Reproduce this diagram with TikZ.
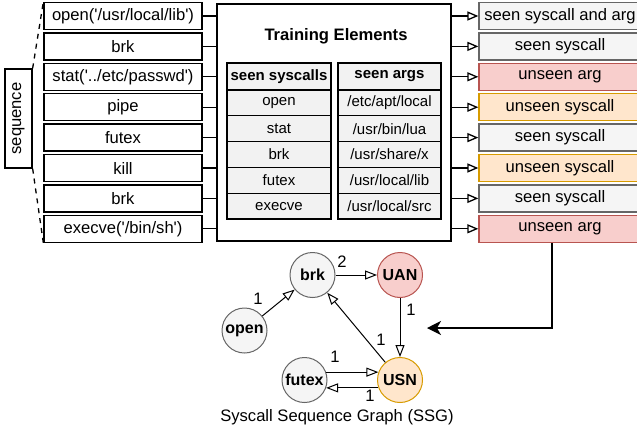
\documentclass[tikz,border=0pt]{standalone}
\usepackage{fontspec}
\setmainfont{Liberation Sans}[Ligatures=TeXOff]
\usetikzlibrary{arrows.meta,calc}

\definecolor{grayfill}{HTML}{F5F5F5}
\definecolor{graystroke}{HTML}{666666}
\definecolor{redfill}{HTML}{F8CECC}
\definecolor{redstroke}{HTML}{B85450}
\definecolor{orangefill}{HTML}{FFE6CC}
\definecolor{orangestroke}{HTML}{D79B00}
\definecolor{cellfill}{HTML}{F2F2F2}

\tikzset{
  txt/.style={font=\fontsize{16.6}{19}\selectfont},
  seqbox/.style={txt, draw, line width=1.3pt, minimum width=158pt, minimum height=27pt, inner sep=0pt},
  outbox/.style={txt, draw, line width=1.3pt, minimum width=162pt, minimum height=27pt, inner sep=0pt},
  seenbox/.style={outbox, fill=grayfill, draw=graystroke},
  argbox/.style={outbox, fill=redfill, draw=redstroke},
  callbox/.style={outbox, fill=orangefill, draw=orangestroke},
  cell/.style={font=\fontsize{15}{17}\selectfont, draw, fill=cellfill, line width=1.3pt, minimum height=25.8pt, inner sep=0pt},
  callcell/.style={cell, minimum width=104pt},
  argcell/.style={cell, minimum width=103pt},
  gnode/.style={circle, minimum size=45pt, inner sep=0pt, line width=1pt, font=\bfseries\fontsize{16}{18}\selectfont},
  gseen/.style={gnode, draw=graystroke, fill=grayfill},
  elabel/.style={txt, inner sep=0pt},
  link/.style={line width=1.3pt},
  zoomline/.style={line width=1.3pt, dash pattern=on 5pt off 5pt},
  outarrow/.style={line width=1.3pt, -{Triangle[open, length=11pt, width=9pt]}},
  garrow/.style={line width=1pt, -{Triangle[open, length=12pt, width=9pt]}},
  bigarrow/.style={line width=1.3pt, -{Stealth[length=14pt, width=14pt, inset=4pt]}},
}

\begin{document}
\begin{tikzpicture}[x=1pt, y=-1pt]
  \useasboundingbox (0,0) rectangle (637,434);

  % input syscall sequence
  \foreach \i/\t in {1/{open('/usr/local/lib')}, 2/{brk}, 3/{stat('../etc/passwd')}, 4/{pipe},
                     5/{futex}, 6/{kill}, 7/{brk}, 8/{execve('/bin/sh')}}
    \node[seqbox] (seq\i) at (123, {16+30.4*(\i-1)}) {\t};

  % rotated label: its south east corner is the upper right one on the page
  \node[txt, draw, line width=1.3pt, rotate=90, minimum width=99pt, minimum height=27pt, inner sep=0pt]
    (seqlabel) at (18.5,118.5) {sequence};
  \draw[zoomline] (seqlabel.south east) -- (seq1.north west);
  \draw[zoomline] (seqlabel.south west) -- (seq8.south west);

  % training elements
  \node[draw, line width=1.3pt, minimum width=234pt, minimum height=237pt] (train) at (334,122.5) {};
  \node[txt, font=\bfseries\fontsize{16.6}{19}\selectfont] (title) at (336,36) {Training Elements};

  \node[callcell, font=\bfseries\fontsize{15}{17}\selectfont, minimum height=27pt] (c0) at (279,76.5) {seen syscalls};
  \node[argcell, font=\bfseries\fontsize{15}{17}\selectfont, minimum height=27pt] (a0) at (389.5,76.5) {seen args};
  \foreach \i/\c/\a in {1/open/{/etc/apt/local}, 2/stat/{/usr/bin/lua}, 3/brk/{/usr/share/x},
                        4/futex/{/usr/local/lib}, 5/execve/{/usr/local/src}} {
    \node[callcell] (c\i) at (279, {90+25.8*(\i-0.5)}) {\c};
    \node[argcell] (a\i) at (389.5, {90+25.8*(\i-0.5)}) {\a};
  }

  % verdicts
  \foreach \i/\t/\s in {1/{seen syscall and arg}/seenbox, 2/{seen syscall}/seenbox, 3/{unseen arg}/argbox,
                        4/{unseen syscall}/callbox, 5/{seen syscall}/seenbox, 6/{unseen syscall}/callbox,
                        7/{seen syscall}/seenbox, 8/{unseen arg}/argbox} {
    \node[\s] (out\i) at (560, {16+30.4*(\i-1)}) {\t};
    \draw[link] (seq\i.east) -- (seq\i.east -| train.west);
    \draw[outarrow] (train.east |- out\i.west) -- (out\i.west);
  }

  % syscall sequence graph
  \node[gseen] (brk) at (312.5,275) {brk};
  \node[gnode, draw=redstroke, fill=redfill] (UAN) at (400,275) {UAN};
  \node[gseen] (open) at (244.5,330.5) {open};
  \node[gseen] (futex) at (304.5,380) {futex};
  \node[gnode, draw=orangestroke, fill=orangefill] (USN) at (400,380) {USN};

  \draw[garrow] (open) -- (brk);
  \draw[garrow] (brk) -- (UAN);
  \draw[garrow] (UAN) -- (USN);
  \draw[garrow] (USN) -- (brk);
  \draw[garrow] (futex.20) -- (USN.160);
  \draw[garrow] (USN.200) -- (futex.340);

  \node[elabel] (l1) at (258,299) {1};
  \node[elabel] (l2) at (342,262) {2};
  \node[elabel] (l3) at (411,310) {1};
  \node[elabel] (l4) at (381,340) {1};
  \node[elabel] (l5) at (335,357) {1};
  \node[elabel] (l6) at (370,396) {1};

  \coordinate (gin) at (427,328);
  \draw[bigarrow] ($(out8.south)+(-8,0)$) |- (gin);

  \node[txt] (caption) at (337,417) {Syscall Sequence Graph (SSG)};
\end{tikzpicture}
\end{document}
